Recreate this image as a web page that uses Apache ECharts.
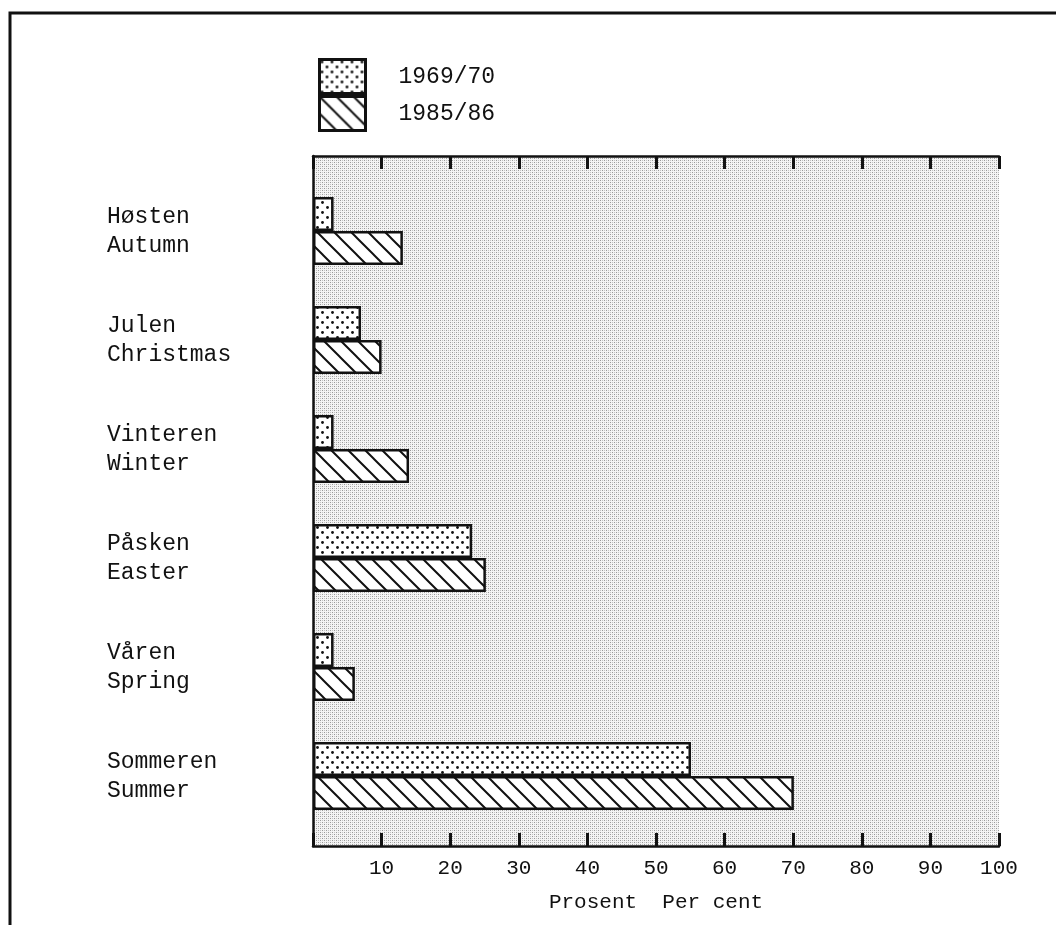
<!DOCTYPE html>
<html>
<head>
    <meta charset="utf-8">
    <title>Ferie</title>
    <script src="https://cdn.jsdelivr.net/npm/echarts@6/dist/echarts.min.js"></script>
    <style>
      html, body { margin: 0; padding: 0; background: #fff; }
    </style>
</head>
<body>
    <div id="main" style="width: 1056px;height:925px;"></div>
    <script type="text/javascript">
    // data
    var namesNo = ['Høsten', 'Julen', 'Vinteren', 'Påsken', 'Våren', 'Sommeren'];
    var namesEn = ['Autumn', 'Christmas', 'Winter', 'Easter', 'Spring', 'Summer'];
    var seriesNames = ['1969/70', '1985/86'];
    var v1969 = [3, 7, 3, 23.2, 3, 55.1];
    var v1985 = [13.1, 10, 14, 25.2, 6.1, 70.1];

    var categories = namesNo.map(function (n, i) { return n + '\n' + namesEn[i]; });

    // fill patterns
    function dotPattern() {
      var c = document.createElement('canvas');
      c.width = 10; c.height = 10;
      var ctx = c.getContext('2d');
      ctx.fillStyle = '#fff';
      ctx.fillRect(0, 0, 10, 10);
      ctx.fillStyle = '#111';
      ctx.beginPath(); ctx.arc(2.5, 2.5, 1.4, 0, Math.PI * 2); ctx.fill();
      ctx.beginPath(); ctx.arc(7.5, 7.5, 1.4, 0, Math.PI * 2); ctx.fill();
      return c;
    }
    function hatchPattern() {
      var c = document.createElement('canvas');
      c.width = 17; c.height = 17;
      var ctx = c.getContext('2d');
      ctx.fillStyle = '#fff';
      ctx.fillRect(0, 0, 17, 17);
      ctx.strokeStyle = '#111';
      ctx.lineWidth = 2;
      ctx.beginPath();
      ctx.moveTo(-3, -3); ctx.lineTo(20, 20);
      ctx.moveTo(14, -3); ctx.lineTo(20, 3);
      ctx.moveTo(-3, 14); ctx.lineTo(3, 20);
      ctx.stroke();
      return c;
    }
    function stipplePattern() {
      var c = document.createElement('canvas');
      c.width = 4; c.height = 4;
      var ctx = c.getContext('2d');
      ctx.fillStyle = '#f4f4f4';
      ctx.fillRect(0, 0, 4, 4);
      ctx.fillStyle = '#999';
      ctx.fillRect(0, 0, 1, 1);
      ctx.fillRect(2, 2, 1, 1);
      ctx.fillStyle = '#c4c4c4';
      ctx.fillRect(2, 0, 1, 1);
      ctx.fillRect(0, 2, 1, 1);
      return c;
    }

    var font = '"Liberation Mono", "DejaVu Sans Mono", monospace';
    var chart = echarts.init(document.getElementById('main'));

    var option = {
      animation: false,
      backgroundColor: '#fff',
      graphic: [{
        type: 'polyline',
        shape: { points: [[10, 925], [10, 13], [1056, 13]] },
        style: { stroke: '#111', lineWidth: 3, fill: null }
      }],
      legend: {
        orient: 'vertical',
        left: 313,
        top: 53,
        itemGap: 0,
        itemWidth: 46,
        itemHeight: 34,
        icon: 'rect',
        data: seriesNames,
        itemStyle: { borderWidth: 3 },
        textStyle: { fontFamily: font, fontSize: 23, color: '#111', padding: [0, 0, 0, 28] }
      },
      grid: [
        { left: 313, top: 156, width: 686, height: 690, show: true, borderWidth: 0,
          backgroundColor: { image: stipplePattern(), repeat: 'repeat' } },
        { left: 313, top: 176.5, width: 686, height: 654 }
      ],
      xAxis: [
        { gridIndex: 0, type: 'value', min: 0, max: 100, interval: 10, position: 'bottom',
          axisLine: { show: true, lineStyle: { color: '#111', width: 2.5 } },
          axisTick: { show: true, inside: true, length: 13, lineStyle: { color: '#111', width: 3 } },
          splitLine: { show: false },
          axisLabel: { margin: 12, fontFamily: font, fontSize: 21, color: '#111',
            formatter: function (v) { return v === 0 ? '' : v; } },
          name: 'Prosent  Per cent', nameLocation: 'middle', nameGap: 46,
          nameTextStyle: { fontFamily: font, fontSize: 21, color: '#111' } },
        { gridIndex: 0, type: 'value', min: 0, max: 100, interval: 10, position: 'top',
          axisLine: { show: true, lineStyle: { color: '#111', width: 2.5 } },
          axisTick: { show: true, inside: true, length: 13, lineStyle: { color: '#111', width: 3 } },
          splitLine: { show: false }, axisLabel: { show: false } },
        { gridIndex: 1, type: 'value', min: 0, max: 100, show: false, splitLine: { show: false } }
      ],
      yAxis: [
        { gridIndex: 0, type: 'value', min: 0, max: 1, position: 'left',
          axisLine: { show: true, lineStyle: { color: '#111', width: 2.5 } },
          axisTick: { show: false }, axisLabel: { show: false }, splitLine: { show: false } },
        { gridIndex: 1, type: 'category', data: categories, inverse: true,
          axisLine: { show: false }, axisTick: { show: false },
          axisLabel: { align: 'left', margin: 206, fontFamily: font, fontSize: 23,
            lineHeight: 29, color: '#111', padding: [5, 0, 0, 0] } }
      ],
      series: [
        { name: seriesNames[0], type: 'bar', xAxisIndex: 2, yAxisIndex: 1, data: v1969,
          barWidth: 34, barGap: '0%',
          itemStyle: { color: { image: dotPattern(), repeat: 'repeat' }, borderColor: '#111', borderWidth: 2.5 } },
        { name: seriesNames[1], type: 'bar', xAxisIndex: 2, yAxisIndex: 1, data: v1985,
          barWidth: 34, barGap: '0%',
          itemStyle: { color: { image: hatchPattern(), repeat: 'repeat' }, borderColor: '#111', borderWidth: 2.5 } }
      ]
    };

    chart.setOption(option);
    </script>
</body>
</html>
